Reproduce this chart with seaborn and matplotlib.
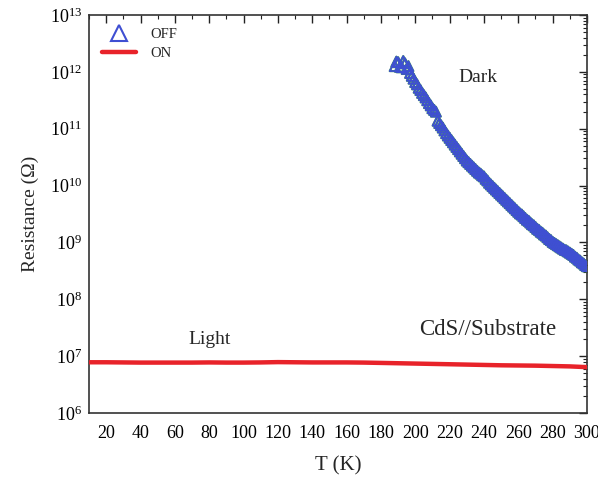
import numpy as np
import pandas as pd
import seaborn as sns
import matplotlib
matplotlib.use("Agg")
import matplotlib.pyplot as plt
from matplotlib.lines import Line2D
from matplotlib.ticker import MultipleLocator, LogLocator, NullFormatter

# ---- data ----
off_T = [188, 189, 190, 191, 192, 193, 194, 195, 196, 197, 198, 199,
         200, 201, 202, 203, 204, 205, 206, 207, 208, 209,
         210, 211, 212, 213, 214, 215, 216, 217, 218, 219,
         220, 221, 222, 223, 224, 225, 226, 227, 228, 229,
         230, 231, 232, 233, 234, 235, 236, 237, 238, 239,
         240, 241, 242, 243, 244, 245, 246, 247, 248, 249,
         250, 251, 252, 253, 254, 255, 256, 257, 258, 259,
         260, 261, 262, 263, 264, 265, 266, 267, 268, 269,
         270, 271, 272, 273, 274, 275, 276, 277, 278, 279,
         280, 281, 282, 283, 284, 285, 286, 287, 288, 289,
         290, 291, 292, 293, 294, 295, 296, 297, 298, 299, 300]
off_log10R = [12.10, 12.18, 12.17, 12.09, 12.08, 12.19, 12.15, 12.05, 12.10, 11.98, 11.93, 11.88,
              11.82, 11.78, 11.72, 11.68, 11.63, 11.59, 11.55, 11.50, 11.45, 11.41,
              11.36, 11.33, 11.30, 11.14, 11.10, 11.06, 11.02, 10.97, 10.92, 10.88,
              10.84, 10.80, 10.76, 10.72, 10.68, 10.64, 10.60, 10.56, 10.52, 10.48,
              10.44, 10.41, 10.38, 10.35, 10.32, 10.29, 10.26, 10.23, 10.21, 10.18,
              10.16, 10.12, 10.09, 10.05, 10.02, 9.99, 9.96, 9.93, 9.90, 9.87,
              9.84, 9.81, 9.78, 9.75, 9.72, 9.69, 9.66, 9.63, 9.60, 9.57,
              9.54, 9.51, 9.49, 9.46, 9.43, 9.40, 9.38, 9.35, 9.32, 9.30,
              9.27, 9.24, 9.22, 9.19, 9.17, 9.14, 9.12, 9.09, 9.06, 9.04,
              9.01, 8.99, 8.97, 8.95, 8.93, 8.91, 8.89, 8.87, 8.86, 8.84,
              8.82, 8.80, 8.78, 8.75, 8.73, 8.70, 8.68, 8.65, 8.63, 8.60, 8.58]
on_T = [10, 20, 30, 40, 50, 60, 70, 80, 90, 100, 110, 120, 130, 140, 150,
        160, 170, 180, 190, 200, 210, 220, 230, 240, 250, 260, 270, 280, 290, 300]
on_R_Mohm = [7.8, 7.8, 7.75, 7.7, 7.7, 7.7, 7.7, 7.75, 7.7, 7.7, 7.75, 7.85, 7.8,
             7.75, 7.75, 7.75, 7.7, 7.6, 7.5, 7.4, 7.3, 7.2, 7.1, 7.0, 6.9, 6.85,
             6.8, 6.7, 6.6, 6.4]
x_ticks = [20, 40, 60, 80, 100, 120, 140, 160, 180, 200, 220, 240, 260, 280, 300]

off_df = pd.DataFrame({"T": off_T, "R": [10 ** v for v in off_log10R]})
on_df = pd.DataFrame({"T": on_T, "R": [v * 1e6 for v in on_R_Mohm]})

sns.set_theme(style="white")
plt.rcParams["font.family"] = ["Liberation Serif", "DejaVu Serif"]
plt.rcParams["mathtext.fontset"] = "stix"

blue = "#3f4fd2"
green = "#3c8c5c"
red = "#e8232a"

fig = plt.figure(figsize=(5.98, 4.79), dpi=100)
ax = fig.add_axes([0.1488, 0.1378, 0.8328, 0.8309])

sns.lineplot(data=on_df, x="T", y="R", ax=ax, color=red, linewidth=3.2, zorder=3)
sns.scatterplot(data=off_df, x="T", y="R", ax=ax, marker="^", s=50,
                facecolors="none", edgecolor=green, linewidths=1.6, zorder=4)
sns.scatterplot(data=off_df, x="T", y="R", ax=ax, marker="^", s=50,
                facecolors="none", edgecolor=blue, linewidths=1.2, zorder=5)

ax.set_yscale("log")
ax.set_xlim(10, 300)
ax.set_ylim(1e6, 1e13)
ax.set_xticks(x_ticks)
ax.xaxis.set_minor_locator(MultipleLocator(10))
ax.yaxis.set_major_locator(LogLocator(base=10, numticks=20))
ax.yaxis.set_minor_locator(LogLocator(base=10, subs=np.arange(2, 10), numticks=20))
ax.yaxis.set_minor_formatter(NullFormatter())

ax.tick_params(which="both", direction="in", top=True, right=True, colors="#222222",
               labelsize=13, labelcolor="black")
ax.tick_params(axis="x", which="major", pad=9)
ax.tick_params(which="major", length=6, width=1.0)
ax.tick_params(axis="y", which="major", pad=5)
ax.tick_params(which="minor", length=3, width=0.8)
for s in ax.spines.values():
    s.set_color("#333333")
    s.set_linewidth(1.2)

ax.set_xlabel("T (K)", fontsize=15, labelpad=10)
ax.set_ylabel("Resistance (Ω)", fontsize=14, labelpad=8)

ax.text(236.5, 10 ** 11.9, "Dark", fontsize=14, ha="center", va="center")
ax.text(80.5, 10 ** 7.29, "Light", fontsize=14, ha="center", va="center")
ax.text(242, 10 ** 7.46, "CdS//Substrate", fontsize=16.5, ha="center", va="center")

handles = [Line2D([], [], marker="^", linestyle="", markersize=12,
                  markerfacecolor="none", markeredgecolor=blue, markeredgewidth=1.5),
           Line2D([], [], color=red, linewidth=3.2)]
ax.legend(handles, ["OFF", "ON"], loc="upper left", frameon=False, fontsize=10.5,
          handlelength=2.3, borderaxespad=0.5, labelspacing=0.35, handletextpad=1.0)

fig.savefig("out.png", dpi=100)
